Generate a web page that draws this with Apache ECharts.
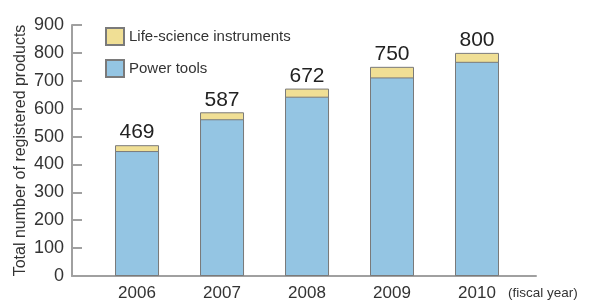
<!DOCTYPE html>
<html lang="en">
<head>
    <meta charset="UTF-8">
    <title>Registered products</title>
    <script src="https://cdn.jsdelivr.net/npm/echarts@6/dist/echarts.min.js"></script>
    <style>
        html, body { margin: 0; padding: 0; background: #fff; }
        #container { width: 592px; height: 302px; }
    </style>
</head>
<body>
<div id="container"></div>
<script>
    var years = [2006, 2007, 2008, 2009, 2010];
    var powerTools = [448, 562, 643, 712, 768];
    var lifeScience = [21, 25, 29, 38, 32];
    var totals = [469, 587, 672, 750, 800];

    var font = 'Liberation Sans, Arial, sans-serif';
    var myChart = echarts.init(document.getElementById('container'));

    // bars sit on a value x axis, so stack by hand: the yellow bar runs to the total
    // and the blue one is drawn over its lower part
    var pairs = function (vals) {
        return vals.map(function (v, i) { return [years[i], v]; });
    };
    var stacked = powerTools.map(function (v, i) { return v + lifeScience[i]; });

    var option = {
        animation: false,
        textStyle: { fontFamily: font },
        grid: { left: 72, right: 56, top: 25, bottom: 26 },
        legend: {
            orient: 'vertical',
            left: 100,
            top: 22,
            icon: 'rect',
            itemWidth: 18,
            itemHeight: 17,
            itemGap: 13,
            textStyle: { fontSize: 15, color: '#333', fontFamily: font },
            data: ['Life-science instruments', 'Power tools']
        },
        xAxis: {
            type: 'value',
            min: 2005.235,
            max: 2010.694,
            name: '(fiscal year)',
            nameLocation: 'end',
            nameGap: -28,
            nameMoveOverlap: false,
            nameTextStyle: { fontSize: 13.5, color: '#333', align: 'left', verticalAlign: 'top', padding: [10, 0, 0, 0] },
            axisLine: { lineStyle: { color: '#a0a0a0', width: 2 } },
            axisTick: { show: false },
            splitLine: { show: false },
            axisLabel: {
                customValues: years,
                fontSize: 17,
                color: '#333',
                margin: 9,
                formatter: function (v) { return String(v); }
            }
        },
        yAxis: {
            type: 'value',
            min: 0,
            max: 900,
            interval: 100,
            name: 'Total number of registered products',
            nameLocation: 'middle',
            nameGap: 43,
            nameMoveOverlap: false,
            nameTextStyle: { fontSize: 16, color: '#333' },
            axisLine: { show: true, lineStyle: { color: '#a0a0a0', width: 2 } },
            axisTick: { show: true, inside: true, length: 10, lineStyle: { color: '#a0a0a0', width: 2 } },
            splitLine: { show: false },
            axisLabel: { fontSize: 18, color: '#333', margin: 8 }
        },
        series: [
            {
                name: 'Life-science instruments',
                type: 'bar',
                barWidth: 44,
                barGap: '-100%',
                z: 2,
                itemStyle: { color: '#f0df95', borderColor: '#7a7a7a', borderWidth: 1 },
                label: {
                    show: true,
                    position: 'top',
                    distance: 2,
                    fontSize: 21,
                    color: '#222',
                    fontFamily: font,
                    formatter: function (p) { return totals[p.dataIndex]; }
                },
                data: pairs(stacked)
            },
            {
                name: 'Power tools',
                type: 'bar',
                barWidth: 44,
                barGap: '-100%',
                z: 3,
                itemStyle: { color: '#94c5e3', borderColor: '#7a7a7a', borderWidth: 1 },
                data: pairs(powerTools)
            }
        ]
    };
    myChart.setOption(option);
</script>
</body>
</html>
